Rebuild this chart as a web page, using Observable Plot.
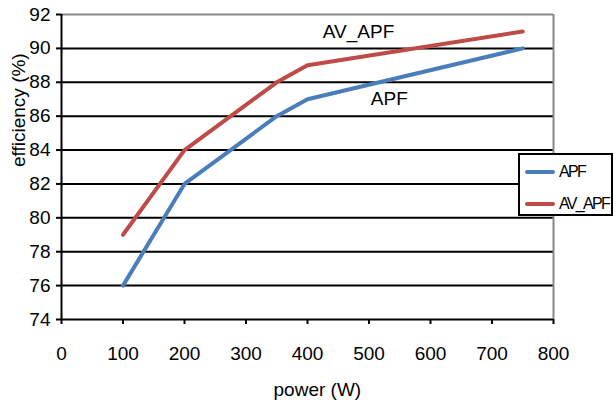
<!DOCTYPE html>
<html>
<head>
<meta charset="utf-8">
<script src="https://cdn.jsdelivr.net/npm/d3@7"></script>
<script src="https://cdn.jsdelivr.net/npm/@observablehq/plot@0.6"></script>
<style>
  html, body { margin: 0; padding: 0; background: #fff; }
  #wrap { position: relative; width: 616px; height: 403px; font-family: "Liberation Sans", Arial, sans-serif; }
  #legend {
    position: absolute; left: 518px; top: 153px; width: 95px; height: 63px;
    box-sizing: border-box; border: 2px solid #000; background: #fff;
    font-size: 16px; letter-spacing: -1.7px; color: #000; line-height: 18px;
  }
  .item { position: absolute; left: 5px; display: flex; align-items: center; }
  .swatch { width: 30px; height: 4px; border-radius: 2px; margin-right: 4px; }
</style>
</head>
<body>
<div id="wrap"></div>
<script>
// Efficiency measurements for the two control schemes
const powerW = [100, 200, 350, 400, 750];
const apf = [76, 82, 86, 87, 90];
const avApf = [79, 84, 88, 89, 91];
const seriesNames = ["APF", "AV_APF"];
const seriesColors = ["#4a7ebb", "#be4b48"];
const xTicks = [0, 100, 200, 300, 400, 500, 600, 700, 800];
const yTicks = [74, 76, 78, 80, 82, 84, 86, 88, 90, 92];

const rows = [
  ...powerW.map((p, i) => ({power: p, eff: apf[i], series: "APF"})),
  ...powerW.map((p, i) => ({power: p, eff: avApf[i], series: "AV_APF"}))
];

const chart = Plot.plot({
  width: 616,
  height: 403,
  marginLeft: 61,
  marginRight: 63,
  marginTop: 14,
  marginBottom: 84,
  style: {fontFamily: "'Liberation Sans', Arial, sans-serif", fontSize: "19px", background: "#fff", color: "#000"},
  x: {domain: [0, 800], label: null},
  y: {domain: [74, 92], label: null},
  color: {domain: seriesNames, range: seriesColors},
  marks: [
    Plot.ruleY(yTicks.filter(d => d > 74 && d < 92), {stroke: "#000", strokeWidth: 2}),
    Plot.ruleY([92], {stroke: "#888", strokeWidth: 2}),
    Plot.ruleX([800], {stroke: "#888", strokeWidth: 2}),
    Plot.ruleX([0], {stroke: "#000", strokeWidth: 2}),
    Plot.ruleY([74], {stroke: "#000", strokeWidth: 2}),
    Plot.axisY({ticks: yTicks, tickSize: 5, tickPadding: 6, strokeWidth: 2, label: null, fontSize: 19, letterSpacing: -1.5}),
    Plot.axisX({ticks: xTicks, tickSize: 5, tickPadding: 22, strokeWidth: 2, label: null, fontSize: 19, letterSpacing: -1.5}),
    Plot.line(rows, {x: "power", y: "eff", stroke: "series", z: "series", strokeWidth: 4, strokeLinecap: "round", strokeLinejoin: "round"}),
    Plot.text(["AV_APF"], {x: 483, y: 91.0, text: d => d, fontSize: 19}),
    Plot.text(["APF"], {x: 533, y: 87.0, text: d => d, fontSize: 19}),
    Plot.text(["power (W)"], {x: 416, y: 74, dy: 70, text: d => d, fontSize: 19}),
    Plot.text(["efficiency (%)"], {frameAnchor: "left", dx: -43, text: d => d, rotate: -90, fontSize: 19})
  ]
});
const wrap = document.getElementById("wrap");
wrap.appendChild(chart);

const legend = document.createElement("div");
legend.id = "legend";
seriesNames.forEach((name, i) => {
  const item = document.createElement("div");
  item.className = "item";
  item.style.top = (i === 0 ? 8 : 40) + "px";
  item.innerHTML = `<span class="swatch" style="background:${seriesColors[i]}"></span><span>${name}</span>`;
  legend.appendChild(item);
});
wrap.appendChild(legend);
</script>
</body>
</html>
